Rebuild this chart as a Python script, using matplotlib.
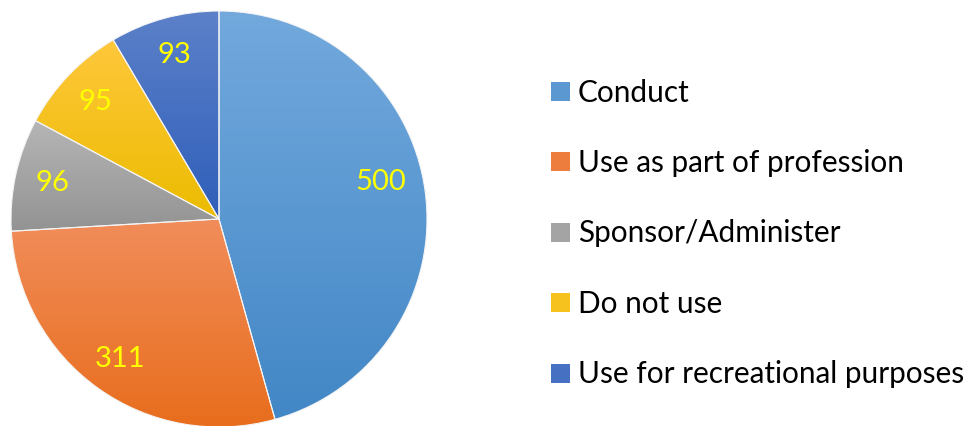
import numpy as np
import matplotlib
matplotlib.use("Agg")
import matplotlib.pyplot as plt
from matplotlib.colors import to_rgb
from matplotlib.patches import Rectangle

plt.rcParams['font.family'] = ['Lato', 'DejaVu Sans']

categories = ["Conduct", "Use as part of profession", "Sponsor/Administer",
              "Do not use", "Use for recreational purposes"]
values = [500, 311, 96, 95, 93]
# top / bottom shades of each slice's vertical gradient
top_colors = ["#73A9DD", "#F18D5B", "#B6B6B6", "#FFC73C", "#5C81C9"]
bottom_colors = ["#4287C6", "#E86D1C", "#939393", "#EBBC00", "#2F5EB9"]
label_color = "#FFFF00"

W, H = 966, 427
fig = plt.figure(figsize=(W / 100, H / 100), dpi=100)

cx, cy, R = 219, 220, 208
ax = fig.add_axes([(cx - R) / W, (H - cy - R) / H, 2 * R / W, 2 * R / H])

wedges, _, autotexts = ax.pie(
    values, startangle=90, counterclock=False, radius=1,
    autopct=lambda p: f"{round(p * sum(values) / 100):d}",
    pctdistance=0.82,
    wedgeprops=dict(facecolor="none", edgecolor="#F4F4F4", linewidth=0.8),
    textprops=dict(color=label_color, fontsize=21),
)
ax.set_aspect("equal")
ax.axis("off")

# vertical gradient inside each wedge
for w, ct, cb in zip(wedges, top_colors, bottom_colors):
    verts = w.get_path().vertices
    y0, y1 = verts[:, 1].min(), verts[:, 1].max()
    x0, x1 = verts[:, 0].min(), verts[:, 0].max()
    t = np.linspace(0, 1, 256)[:, None]
    img = (1 - t) * np.array(to_rgb(ct)) + t * np.array(to_rgb(cb))
    img = img[:, None, :].repeat(2, axis=1)
    im = ax.imshow(img, extent=[x0, x1, y0, y1], origin="upper",
                   aspect="auto", zorder=0, interpolation="bilinear")
    im.set_clip_path(w)
    w.set_zorder(1)
for t in autotexts:
    t.set_zorder(3)
ax.set_xlim(-1, 1)
ax.set_ylim(-1, 1)

# shift the large slice's label slightly further counter-clockwise
th = np.deg2rad((wedges[0].theta1 + wedges[0].theta2) / 2 + 5.5)
autotexts[0].set_position((0.80 * np.cos(th), 0.80 * np.sin(th)))

# legend
sq = 19
row0, step = 92, 70.5
for i, (lab, ct, cb) in enumerate(zip(categories, top_colors, bottom_colors)):
    yc = row0 + i * step
    mid = 0.5 * (np.array(to_rgb(ct)) + np.array(to_rgb(cb)))
    fig.add_artist(Rectangle((551 / W, (H - yc - sq / 2) / H), sq / W, sq / H,
                             transform=fig.transFigure, facecolor=mid,
                             edgecolor="none"))
    fig.text(578 / W, (H - yc - 9.5) / H, lab, fontsize=21.4, color="black",
             ha="left", va="baseline")

fig.savefig("out.png", dpi=100, facecolor="white")
